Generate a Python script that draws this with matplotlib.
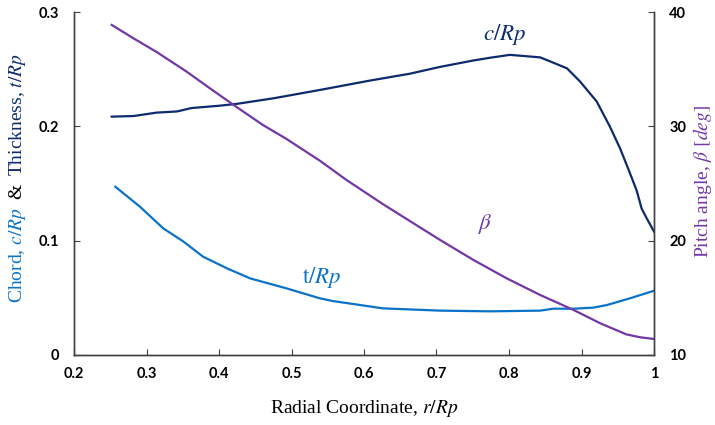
import numpy as np
import matplotlib
matplotlib.use('Agg')
import matplotlib.pyplot as plt

# chord c/Rp (left axis)
r_c = [0.252, 0.282, 0.314, 0.342, 0.362, 0.400, 0.424, 0.475, 0.539, 0.608,
       0.663, 0.705, 0.750, 0.774, 0.801, 0.815, 0.843, 0.861, 0.880, 0.898,
       0.921, 0.939, 0.953, 0.965, 0.976, 0.983, 0.990, 1.000]
chord = [0.2085, 0.209, 0.212, 0.213, 0.216, 0.218, 0.2196, 0.2245, 0.2318, 0.240,
         0.246, 0.252, 0.2575, 0.260, 0.2625, 0.2618, 0.2603, 0.2557, 0.2507, 0.2392,
         0.2217, 0.200, 0.181, 0.162, 0.144, 0.128, 0.1195, 0.108]

# thickness t/Rp (left axis)
r_t = [0.257, 0.291, 0.323, 0.351, 0.378, 0.411, 0.443, 0.493, 0.539, 0.557,
       0.626, 0.705, 0.774, 0.843, 0.861, 0.889, 0.916, 0.935, 0.967, 1.000]
thick = [0.1472, 0.1297, 0.1108, 0.0992, 0.086, 0.0758, 0.067, 0.0583, 0.0496, 0.0472,
         0.0408, 0.0388, 0.0382, 0.0388, 0.0405, 0.0405, 0.0414, 0.0437, 0.0496, 0.0562]

# pitch angle beta [deg] (right axis)
r_b = [0.252, 0.282, 0.314, 0.355, 0.388, 0.424, 0.461, 0.493, 0.539, 0.576,
       0.626, 0.705, 0.751, 0.797, 0.843, 0.889, 0.926, 0.962, 0.981, 1.000]
beta = [38.87, 37.7, 36.5, 34.8, 33.3, 31.7, 30.1, 28.9, 27.0, 25.3,
        23.2, 20.06, 18.31, 16.7, 15.25, 13.94, 12.77, 11.8, 11.55, 11.4]

x_ticks = [0.2, 0.3, 0.4, 0.5, 0.6, 0.7, 0.8, 0.9, 1.0]
x_labels = ['0.2', '0.3', '0.4', '0.5', '0.6', '0.7', '0.8', '0.9', '1']
y_ticks = [0, 0.1, 0.2, 0.3]
y_labels = ['0', '0.1', '0.2', '0.3']
b_ticks = [10, 20, 30, 40]

navy = '#0D2A6E'
blue = '#0A72C8'
purple = '#7236A6'
spine_c = '#404040'

plt.rcParams['mathtext.fontset'] = 'stix'
serif = 'Liberation Serif'
tick_font = dict(family='Lato', weight='bold', size=10.5)

fig = plt.figure(figsize=(7.15, 4.25), dpi=100)
ax = fig.add_axes([74 / 715, 1 - 355 / 425, 580 / 715, 343 / 425])
ax2 = ax.twinx()

ax.plot(r_c, chord, color=navy, lw=1.6)
ax.plot(r_t, thick, color=blue, lw=1.6)
ax2.plot(r_b, beta, color=purple, lw=1.6)

ax.set_xlim(0.2, 1.0)
ax.set_ylim(0, 0.3)
ax2.set_ylim(10, 40)

ax.set_xticks(x_ticks)
ax.set_xticklabels(x_labels, **tick_font)
ax.set_yticks(y_ticks)
ax.set_yticklabels(y_labels, **tick_font)
ax2.set_yticks(b_ticks)
ax2.set_yticklabels([str(b) for b in b_ticks], **tick_font)

ax.tick_params(axis='x', direction='in', length=4, pad=9, color=spine_c)
ax.tick_params(axis='y', direction='in', length=4, pad=11, color=spine_c)
ax2.tick_params(axis='y', direction='in', length=4, pad=11, color=spine_c)
for a in (ax, ax2):
    a.spines['top'].set_visible(False)
    for s in ('left', 'right', 'bottom'):
        a.spines[s].set_color(spine_c)
        a.spines[s].set_linewidth(1.0)

ax.set_xlabel('Radial Coordinate, $r/Rp$', family=serif, size=14, labelpad=12)

# right axis label, placed by hand so it stays inside the figure
fig.text(702 / 715, 1 - 181 / 425, 'Pitch angle, $\\beta$ $[deg]$', rotation=90,
         ha='center', va='center', color=purple, family=serif, size=14)

# multi-coloured left axis label
fig.canvas.draw()
rend = fig.canvas.get_renderer()
x_lab = 17 / 715
y_pos = 1 - 303 / 425
pieces = [('Chord, $c/Rp$', blue), ('&', 'black'), ('Thickness, $t/Rp$', navy)]
for txt, col in pieces:
    t = fig.text(x_lab, y_pos, txt, rotation=90, rotation_mode='anchor',
                 ha='left', va='center', color=col, family=serif, size=14)
    bb = t.get_window_extent(rend)
    y_pos = fig.transFigure.inverted().transform((0, bb.y1 + 8))[1]

# in-plot curve labels
ax.text(0.794, 0.28, '$c/Rp$', color=navy, size=16.5, ha='center', va='center')
ax.text(0.768, 0.1146, '$\\beta$', color=purple, size=16.5, ha='center', va='center')
ax.text(0.542, 0.068, '$\\mathrm{t}/Rp$', color=blue, size=16.5, ha='center', va='center')

fig.savefig('out.png', dpi=100)
